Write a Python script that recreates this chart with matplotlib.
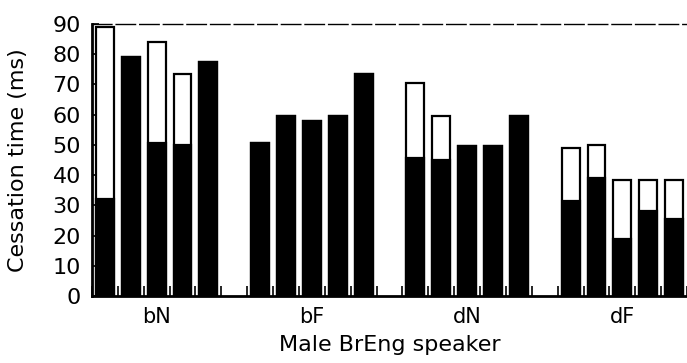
import matplotlib.pyplot as plt
import numpy as np

# cessation time per token (ms): total height and the black (closure) part
groups = ['bN', 'bF', 'dN', 'dF']
totals = [
    [89, 79, 84, 73.5, 77.5],
    [50.5, 59.5, 58, 59.5, 73.5],
    [70.5, 59.5, 49.5, 49.5, 59.5],
    [49, 50, 38.5, 38.5, 38.5],
]
closure = [
    [32, 79, 50.5, 50, 77.5],
    [50.5, 59.5, 58, 59.5, 73.5],
    [45.5, 45, 49.5, 49.5, 59.5],
    [31.5, 39, 19, 28, 25.5],
]
yticks = list(range(0, 100, 10))

fig = plt.figure(figsize=(6.87, 3.63), dpi=100)
ax = fig.add_axes([92 / 687, 67 / 363, 1 - 92 / 687, (296 - 24) / 363])

slot = 0
centers = []
bounds = []
for g in range(len(groups)):
    xs = np.arange(slot, slot + 5)
    ax.bar(xs, totals[g], width=0.69, color='white', edgecolor='black', linewidth=1.6, zorder=2)
    ax.bar(xs, closure[g], width=0.69, color='black', edgecolor='black', linewidth=1.6, zorder=3)
    centers.append(slot + 2)
    bounds += list(np.arange(slot - 0.5, slot + 5.5, 1.0))
    slot += 6

ax.set_xlim(-0.5, 22.2)
ax.set_ylim(0, 90)

ax.set_yticks(yticks)
ax.set_yticklabels([str(v) for v in yticks], fontsize=16)
ax.set_xticks(centers)
ax.set_xticklabels(groups, fontsize=15)
ax.set_xticks(bounds, minor=True)

ax.tick_params(axis='y', direction='in', length=5, width=1.2, pad=8)
ax.tick_params(axis='x', which='major', length=0, pad=8)
ax.tick_params(axis='x', which='minor', direction='in', length=7, width=1.2)

ax.spines['right'].set_visible(False)
ax.spines['left'].set_linewidth(2)
ax.spines['bottom'].set_linewidth(2)
ax.spines['top'].set_linewidth(1)
ax.spines['top'].set_linestyle((0, (14, 3)))

ax.set_ylabel('Cessation time (ms)', fontsize=16)
ax.yaxis.set_label_coords(-0.108, 0.5)
ax.set_xlabel('Male BrEng speaker', fontsize=16)
ax.xaxis.set_label_coords(0.5, -0.145)

fig.savefig('out.png', dpi=100)
